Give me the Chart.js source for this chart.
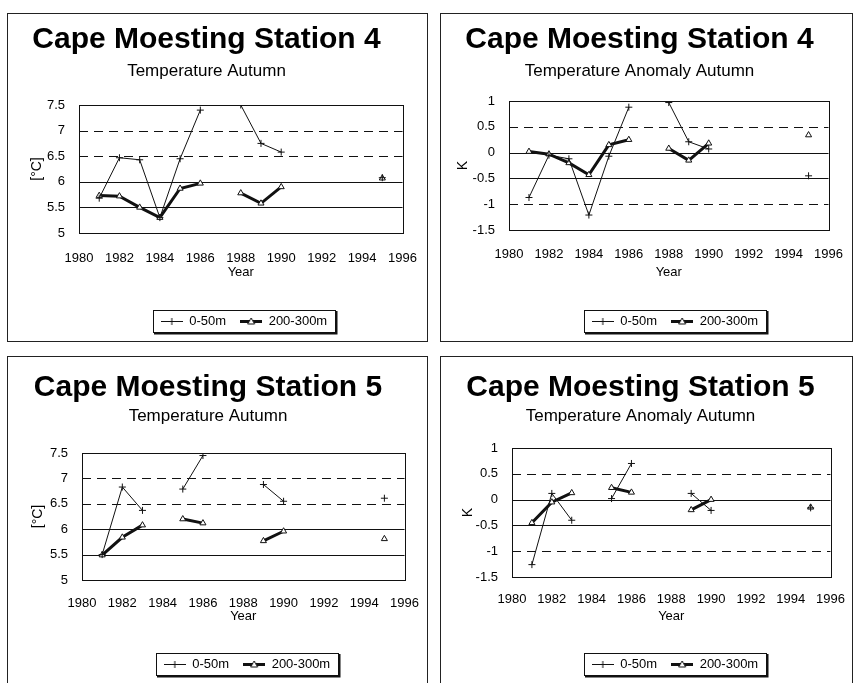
<!DOCTYPE html>
<html><head><meta charset="utf-8">
<script src="https://cdn.jsdelivr.net/npm/chart.js@4.4.1/dist/chart.umd.min.js"></script>
<style>
html,body{margin:0;padding:0;background:#fff;width:855px;height:683px;overflow:hidden;position:relative}
.box{position:absolute;border:1px solid #222;box-sizing:border-box;background:#fff}
canvas{position:absolute;left:0;top:0}
</style></head><body>
<div class="box" style="left:7px;top:13px;width:421px;height:329px"><canvas id="c1" width="419" height="327"></canvas></div>
<div class="box" style="left:440px;top:13px;width:413px;height:329px"><canvas id="c2" width="411" height="327"></canvas></div>
<div class="box" style="left:7px;top:356px;width:421px;height:329px"><canvas id="c3" width="419" height="327"></canvas></div>
<div class="box" style="left:440px;top:356px;width:413px;height:329px"><canvas id="c4" width="411" height="327"></canvas></div>
<script>
// ---------- data ----------
const years = [1981,1982,1983,1984,1985,1986,1987,1988,1989,1990,1991,1992,1993,1994,1995];
const xTickYears = [1980,1982,1984,1986,1988,1990,1992,1994,1996];
const seriesNames = ['0-50m','200-300m'];

const st4Temp050    = [5.68, 6.47, 6.43, 5.30, 6.45, 7.40, null, 7.50, 6.75, 6.58, null, null, null, null, 6.08];
const st4Temp200300 = [5.73, 5.72, 5.50, 5.30, 5.87, 5.97, null, 5.78, 5.58, 5.90, null, null, null, null, 6.07];
const st4Anom050    = [-0.87, -0.05, -0.12, -1.21, -0.07, 0.88, null, 0.97, 0.21, 0.07, null, null, null, null, -0.45];
const st4Anom200300 = [0.02, -0.03, -0.20, -0.43, 0.15, 0.25, null, 0.08, -0.15, 0.18, null, null, null, null, 0.34];
const st5Temp050    = [5.50, 6.83, 6.37, null, 6.79, 7.45, null, null, 6.88, 6.55, null, null, null, null, 6.61];
const st5Temp200300 = [5.49, 5.84, 6.08, null, 6.20, 6.12, null, null, 5.77, 5.96, null, null, null, null, 5.81];
const st5Anom050    = [-1.26, 0.12, -0.40, null, 0.02, 0.70, null, null, 0.12, -0.21, null, null, null, null, -0.16];
const st5Anom200300 = [-0.45, -0.05, 0.13, null, 0.23, 0.14, null, null, -0.20, 0.00, null, null, null, null, -0.15];

// ---------- helpers ----------
const FONT = "'Liberation Sans', Arial, sans-serif";
const INK = '#111';

function makeIcon(kind){
  const c = document.createElement('canvas'); c.width = 22; c.height = 10;
  const g = c.getContext('2d'); g.strokeStyle = INK; g.fillStyle = '#fff';
  g.lineWidth = kind === 0 ? 1 : 3;
  g.beginPath(); g.moveTo(0,5.5); g.lineTo(22,5.5); g.stroke();
  g.lineWidth = 1;
  if (kind === 0) { g.beginPath(); g.moveTo(11,2); g.lineTo(11,9); g.moveTo(8,5.5); g.lineTo(14,5.5); g.stroke(); }
  else { g.beginPath(); g.moveTo(11,2); g.lineTo(14.5,8); g.lineTo(7.5,8); g.closePath(); g.fill(); g.stroke(); }
  return c;
}
const icons = [makeIcon(0), makeIcon(1)];

const framePlugin = {
  id: 'frame',
  afterLayout(chart, args, opts) {
    const lg = chart.legend; lg.left += opts.legendDx; lg.right += opts.legendDx;
  },
  beforeDatasetsDraw(chart, args, opts) {
    const {ctx, chartArea: a, scales: {y}} = chart;
    ctx.save(); ctx.strokeStyle = INK; ctx.lineWidth = 1;
    y.ticks.forEach(t => {
      if (t.value <= y.min || t.value >= y.max) return;
      const py = Math.round(y.getPixelForValue(t.value)) + 0.5;
      ctx.setLineDash(opts.dashed.includes(t.value) ? [9,6] : []);
      ctx.beginPath(); ctx.moveTo(a.left, py); ctx.lineTo(a.right, py); ctx.stroke();
    });
    ctx.setLineDash([]);
    ctx.strokeRect(Math.round(a.left)+0.5, Math.round(a.top)+0.5, Math.round(a.width), Math.round(a.height));
    ctx.restore();
  },
  afterDraw(chart) {
    const lg = chart.legend, ctx = chart.ctx;
    const pad = lg.options.labels.padding;
    const lw = lg.lineWidths[0];
    const x0 = (lg.left + pad + lg.right - lw) / 2;
    const x1 = x0 + lw - pad;
    const cy = lg.top + pad + 6.5;
    ctx.save(); ctx.strokeStyle = INK; ctx.lineWidth = 1;
    ctx.strokeRect(Math.round(x0 - 8) + 0.5, Math.round(cy - 11) + 0.5, Math.round(x1 - x0 + 16), 22);
    ctx.lineWidth = 2;
    ctx.beginPath();
    ctx.moveTo(Math.round(x1 + 8) + 1.5, Math.round(cy - 11) + 1);
    ctx.lineTo(Math.round(x1 + 8) + 1.5, Math.round(cy + 11) + 1.5);
    ctx.lineTo(Math.round(x0 - 8) + 1, Math.round(cy + 11) + 1.5);
    ctx.stroke();
    ctx.restore();
  }
};

function panel(id, o) {
  const pts = arr => years.map((yr, i) => ({x: yr, y: arr[i]}));
  return new Chart(document.getElementById(id), {
    type: 'line',
    data: { datasets: [
      { label: seriesNames[0], data: pts(o.a), borderColor: INK, borderWidth: 1, tension: 0, spanGaps: false,
        pointStyle: 'cross', pointRadius: 3.5, pointBorderColor: INK, pointBorderWidth: 1 },
      { label: seriesNames[1], data: pts(o.b), borderColor: INK, borderWidth: 3, tension: 0, spanGaps: false,
        pointStyle: 'triangle', pointRadius: 3.5, pointBackgroundColor: '#fff', pointBorderColor: INK, pointBorderWidth: 1 }
    ]},
    options: {
      responsive: false, animation: false, devicePixelRatio: 1,
      layout: { padding: { left: 0, right: o.padR, top: 0, bottom: 3.5 } },
      plugins: {
        title: { display: true, text: o.title, color: '#000', font: {family: FONT, size: 30, weight: 'bold'}, padding: {top: o.tp, bottom: 0} },
        subtitle: { display: true, text: o.sub, color: '#000', font: {family: FONT, size: 17}, padding: {top: o.spt, bottom: o.spb} },
        legend: { position: 'bottom', labels: { usePointStyle: true, pointStyleWidth: 22, boxHeight: 10, padding: 14, color: '#000',
          font: {family: FONT, size: 13},
          generateLabels: ch => ch.data.datasets.map((ds, i) => ({ text: ds.label, pointStyle: icons[i], fillStyle: '#fff', strokeStyle: INK, lineWidth: 1, hidden: false, datasetIndex: i })) } },
        tooltip: { enabled: false },
        frame: { dashed: o.dashed, legendDx: o.legendDx }
      },
      scales: {
        x: { type: 'linear', min: xTickYears[0], max: xTickYears[xTickYears.length-1],
          afterBuildTicks: s => { s.ticks = xTickYears.map(v => ({value: v})); },
          ticks: { callback: v => String(v), color: '#000', font: {family: FONT, size: 13}, padding: o.xPad, maxRotation: 0, autoSkip: false },
          grid: { display: false }, border: { display: false },
          title: { display: true, text: 'Year', color: '#000', font: {family: FONT, size: 13}, padding: {top: 0, bottom: o.yearPb} },
          afterFit: s => { s.height = o.xH; } },
        y: { min: o.ymin, max: o.ymax,
          ticks: { stepSize: 0.5, callback: v => String(v), color: '#000', font: {family: FONT, size: 13}, padding: 6 },
          grid: { display: false }, border: { display: false },
          title: { display: true, text: o.yTitle, color: '#000', font: {family: FONT, size: 14}, padding: {top: o.yTitlePt, bottom: 0} },
          afterFit: s => { s.width = o.yW; } }
      }
    },
    plugins: [framePlugin]
  });
}

panel('c1', { a: st4Temp050, b: st4Temp200300, title: 'Cape Moesting Station 4', sub: 'Temperature Autumn', yTitle: '[°C]',
  ymin: 5, ymax: 7.5, dashed: [6.5, 7], padR: 22, yW: 71, tp: 8, spt: 2.8, spb: 23.8, xH: 67.5, xPad: 10, yearPb: 20.7, yTitlePt: 21, legendDx: 37.5 });
panel('c2', { a: st4Anom050, b: st4Anom200300, title: 'Cape Moesting Station 4', sub: 'Temperature Anomaly Autumn', yTitle: 'K',
  ymin: -1.5, ymax: 1, dashed: [0.5, -1], padR: 14, yW: 68, tp: 8, spt: 2.8, spb: 19.8, xH: 70.5, xPad: 9, yearPb: 20.7, yTitlePt: 14, legendDx: 35.5 });
panel('c3', { a: st5Temp050, b: st5Temp200300, title: 'Cape Moesting Station 5', sub: 'Temperature Autumn', yTitle: '[°C]',
  ymin: 5, ymax: 7.5, dashed: [6.5, 7], padR: 19, yW: 74, tp: 13, spt: 0, spb: 26.6, xH: 63.5, xPad: 8, yearPb: 19.7, yTitlePt: 22, legendDx: 39 });
panel('c4', { a: st5Anom050, b: st5Anom200300, title: 'Cape Moesting Station 5', sub: 'Temperature Anomaly Autumn', yTitle: 'K',
  ymin: -1.5, ymax: 1, dashed: [0.5, -1], padR: 12, yW: 71, tp: 13, spt: 0, spb: 21.6, xH: 66.5, xPad: 7, yearPb: 19.7, yTitlePt: 19, legendDx: 34.5 });
</script>
</body></html>
